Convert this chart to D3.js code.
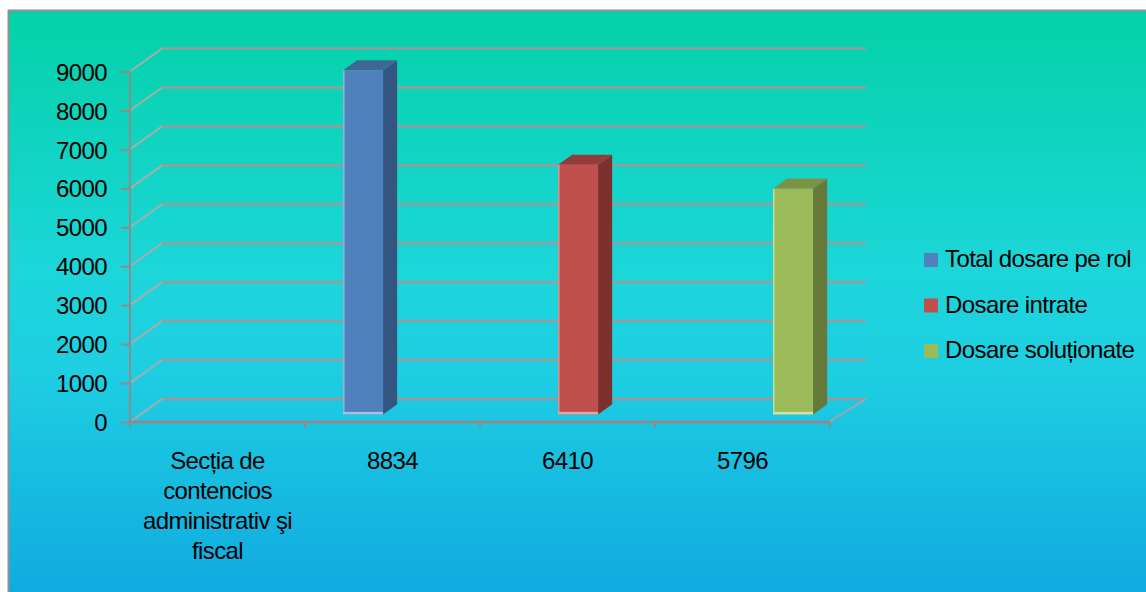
<!DOCTYPE html>
<html>
<head>
<meta charset="utf-8">
<script src="https://cdn.jsdelivr.net/npm/d3@7"></script>
<style>
  html, body { margin: 0; padding: 0; background: #ffffff; }
  svg { display: block; }
  text { font-family: "Liberation Sans", Arial, sans-serif; fill: #000; }
</style>
</head>
<body>
<svg id="chart" width="1146" height="592"></svg>
<script>
// ---- data ----
const categories = ["Secția de contencios administrativ şi fiscal", "8834", "6410", "5796"];
const seriesNames = ["Total dosare pe rol", "Dosare intrate", "Dosare soluționate"];
const totalDosarePeRol = [null, 8834, null, null];
const dosareIntrate = [null, null, 6410, null];
const dosareSolutionate = [null, null, null, 5796];
const yTickValues = [0, 1000, 2000, 3000, 4000, 5000, 6000, 7000, 8000, 9000];

// ---- styles ----
const seriesColors = [
  { front: "#4F81BD", side: "#34557F", top: "#3F6793", edge: "#A9C0DE" },
  { front: "#C0504D", side: "#7B302E", top: "#953C3A", edge: "#E0A8A6" },
  { front: "#9BBB59", side: "#67793A", top: "#7B9346", edge: "#D3E2AA" }
];
const seriesData = [totalDosarePeRol, dosareIntrate, dosareSolutionate];

const svg = d3.select("#chart");
const defs = svg.append("defs");
const grad = defs.append("linearGradient").attr("id", "bg").attr("x1", 0).attr("y1", 0).attr("x2", 0).attr("y2", 1);
grad.append("stop").attr("offset", "0%").attr("stop-color", "#03D2A7");
grad.append("stop").attr("offset", "45%").attr("stop-color", "#1CD6DA");
grad.append("stop").attr("offset", "62%").attr("stop-color", "#1ECEE2");
grad.append("stop").attr("offset", "100%").attr("stop-color", "#10ABE0");

svg.append("rect").attr("x", 9).attr("y", 11).attr("width", 1146 - 9).attr("height", 592 - 11).attr("fill", "url(#bg)");
svg.append("line").attr("x1", 8).attr("x2", 1146).attr("y1", 10.5).attr("y2", 10.5).attr("stroke", "#929292").attr("stroke-width", 2);
svg.append("line").attr("x1", 8.5).attr("x2", 8.5).attr("y1", 10).attr("y2", 592).attr("stroke", "#929292").attr("stroke-width", 2);

// ---- scales ----
const x = d3.scaleBand().domain(categories).range([130, 830]).padding(0);
const xs = d3.scaleBand().domain(seriesNames).range([-60, 60]).padding(0);
const y = d3.scaleLinear().domain([0, 9000]).range([422, 71.5]);
const depth = { dx: 32, dy: -23 };
const backRight = 866;
const gridCol = "#9b9b9b";

// ---- walls / gridlines ----
const g = svg.append("g");
yTickValues.forEach(v => {
  const yf = y(v), yb = yf + depth.dy;
  g.append("line").attr("x1", 130 + depth.dx).attr("x2", backRight).attr("y1", yb).attr("y2", yb)
    .attr("stroke", gridCol).attr("stroke-width", 2.5);
  g.append("line").attr("x1", 130).attr("y1", yf).attr("x2", 130 + depth.dx).attr("y2", yb)
    .attr("stroke", "#ababab").attr("stroke-width", 2);
});
// floor right edge
g.append("line").attr("x1", 829).attr("y1", y(0)).attr("x2", backRight).attr("y2", y(0) + depth.dy)
  .attr("stroke", "#a5a5a5").attr("stroke-width", 2);

// ---- y axis ----
const yAxis = d3.axisLeft(y).tickValues(yTickValues).tickSize(9).tickPadding(14).tickFormat(d3.format("d"));
const ya = svg.append("g").attr("transform", "translate(130,0)").call(yAxis);
ya.select(".domain").attr("stroke", "#8c8c8c").attr("stroke-width", 2).attr("d", `M0,${y(9000)}V${y(0)}`);
ya.selectAll(".tick line").attr("stroke", "#8c8c8c").attr("stroke-width", 2);
ya.selectAll(".tick text").attr("font-size", 24).attr("letter-spacing", -0.6)
  .attr("font-family", "'Liberation Sans', Arial, sans-serif").attr("fill", "#000").attr("dy", "0.36em");

// ---- x axis ----
const xAxis = d3.axisBottom(x).tickSize(0).tickFormat("");
const xa = svg.append("g").attr("transform", `translate(0,${y(0)})`).call(xAxis);
xa.select(".domain").attr("stroke", "#8c8c8c").attr("stroke-width", 3).attr("d", "M130,0H830");
const tickXs = categories.map(c => x(c)).concat([x.range()[1]]);
xa.selectAll(".ctick").data(tickXs).enter().append("line").attr("class", "ctick")
  .attr("x1", d => d).attr("x2", d => d).attr("y1", 0).attr("y2", 6)
  .attr("stroke", "#8c8c8c").attr("stroke-width", 2);

// category labels with wrapping
const labelG = svg.append("g");
categories.forEach(c => {
  const cx = x(c) + x.bandwidth() / 2;
  const t = labelG.append("text").attr("text-anchor", "middle").attr("font-size", 24).attr("letter-spacing", -0.6);
  const words = c.split(" ");
  let lines = [], cur = [];
  const probe = labelG.append("text").attr("font-size", 24).attr("letter-spacing", -0.6);
  words.forEach(w => {
    const test = cur.concat([w]).join(" ");
    probe.text(test);
    if (probe.node().getComputedTextLength() > 160 && cur.length) { lines.push(cur.join(" ")); cur = [w]; }
    else cur.push(w);
  });
  if (cur.length) lines.push(cur.join(" "));
  probe.remove();
  lines.forEach((ln, i) => t.append("tspan").attr("x", cx).attr("y", 469 + i * 30).text(ln));
});

// ---- bars ----
const f0 = 0.33, f1 = 0.77;
const barsG = svg.append("g");
seriesData.forEach((vals, si) => {
  const col = seriesColors[si];
  vals.forEach((v, ci) => {
    if (v == null) return;
    const cat = categories[ci];
    const cx = x(cat) + x.bandwidth() / 2 + xs(seriesNames[si]);
    const x0 = cx + depth.dx * f0, x1 = x0 + xs.bandwidth();
    const yt = y(v) + depth.dy * f0, yb = y(0) + depth.dy * f0;
    const ddx = depth.dx * (f1 - f0), ddy = depth.dy * (f1 - f0);
    const poly = pts => pts.map(p => p.join(",")).join(" ");
    // side
    barsG.append("polygon").attr("points", poly([[x1, yt], [x1 + ddx, yt + ddy], [x1 + ddx, yb + ddy], [x1, yb]]))
      .attr("fill", col.side);
    // top
    barsG.append("polygon").attr("points", poly([[x0, yt], [x1, yt], [x1 + ddx, yt + ddy], [x0 + ddx, yt + ddy]]))
      .attr("fill", col.top);
    // front
    barsG.append("rect").attr("x", x0).attr("y", yt).attr("width", x1 - x0).attr("height", yb - yt)
      .attr("fill", col.front);
    // highlights
    barsG.append("rect").attr("x", x0).attr("y", yt).attr("width", 1.5).attr("height", yb - yt).attr("fill", col.edge).attr("opacity", 0.8);
    barsG.append("rect").attr("x", x0).attr("y", yb - 2.5).attr("width", x1 - x0).attr("height", 2.5).attr("fill", col.edge);
  });
});

// ---- legend ----
const leg = svg.append("g");
seriesNames.forEach((name, i) => {
  const cy = 260 + i * 45.5;
  leg.append("rect").attr("x", 924).attr("y", cy - 7).attr("width", 14).attr("height", 14).attr("fill", seriesColors[i].front);
  leg.append("text").attr("x", 945).attr("y", cy + 7).attr("font-size", 24).attr("letter-spacing", -0.6).text(name);
});
</script>
</body>
</html>
